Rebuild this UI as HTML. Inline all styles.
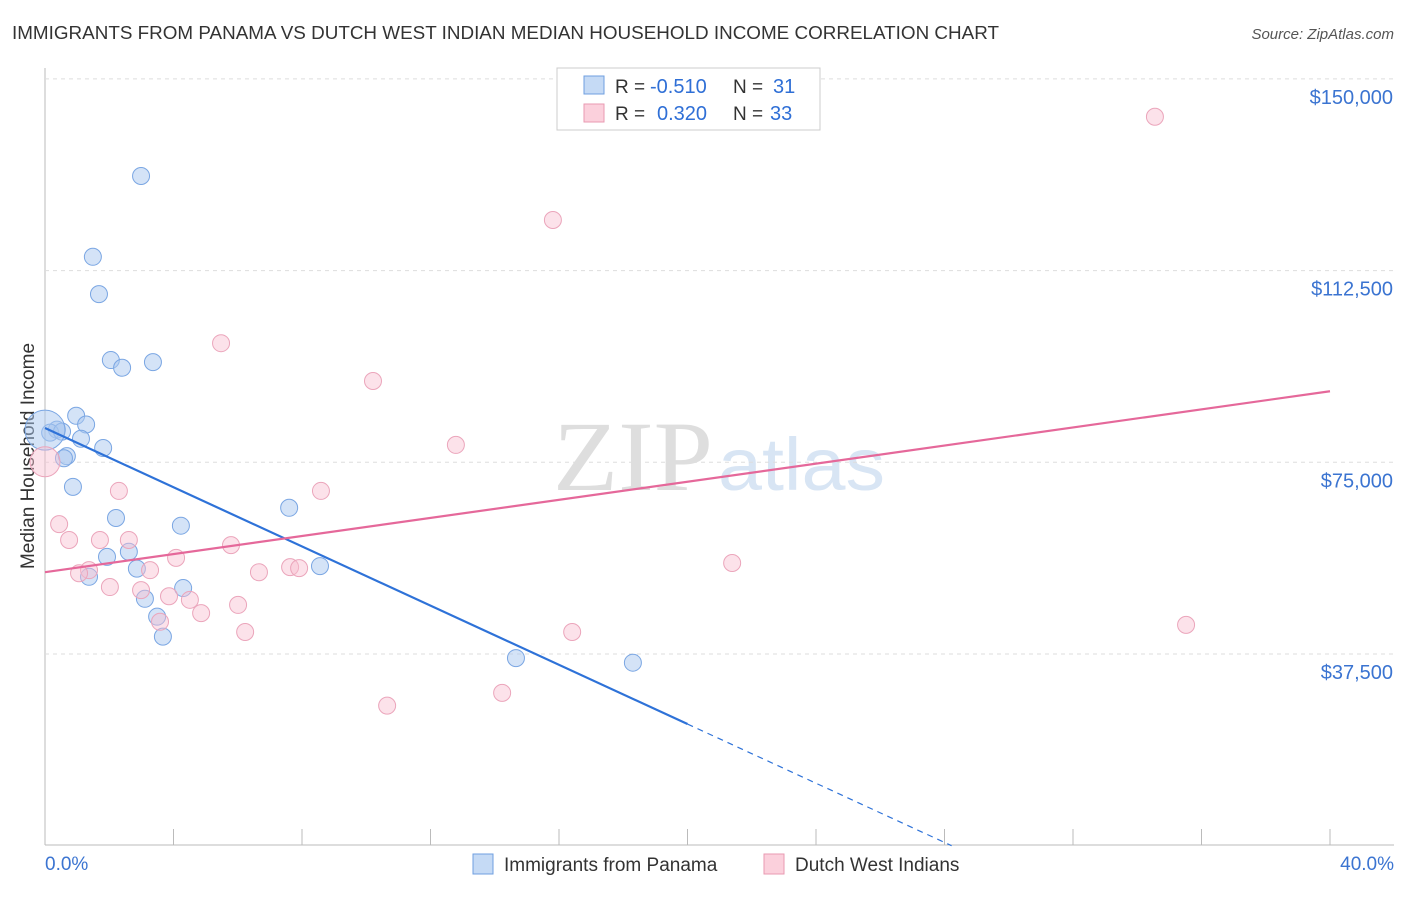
<!DOCTYPE html>
<html><head><meta charset="utf-8"><style>
body{margin:0;background:#fff;font-family:"Liberation Sans",sans-serif;}
svg text{font-family:"Liberation Sans",sans-serif;}
</style></head><body>
<svg id="chart" width="1406" height="892">
<text x="12" y="39" font-size="18" fill="#333" textLength="987" lengthAdjust="spacingAndGlyphs">IMMIGRANTS FROM PANAMA VS DUTCH WEST INDIAN MEDIAN HOUSEHOLD INCOME CORRELATION CHART</text>
<text x="1394" y="39" font-size="15" fill="#555" font-style="italic" text-anchor="end">Source: ZipAtlas.com</text>
<text x="34" y="456" font-size="19" fill="#333" text-anchor="middle" transform="rotate(-90 34 456)">Median Household Income</text>
<g>
<text x="553" y="490" font-size="100" fill="#dedede" font-family="Liberation Serif" style="font-family:'Liberation Serif',serif" textLength="160" lengthAdjust="spacingAndGlyphs">ZIP</text>
<text x="718" y="490" font-size="74" fill="#d8e5f4" textLength="167" lengthAdjust="spacingAndGlyphs">atlas</text>
</g>
<g id="grid"></g><g id="marks"></g>
<g>
<rect x="557" y="68" width="263" height="62" fill="#fff" stroke="#ccc"/>
<rect x="584" y="76" width="20" height="18" fill="#c5daf5" stroke="#6f9fe0"/>
<rect x="584" y="104" width="20" height="18" fill="#fbd0dc" stroke="#e89ab2"/>
<text x="615" y="93" font-size="19" fill="#333">R =</text>
<text x="650" y="93" font-size="20" fill="#2f6fd6">-0.510</text>
<text x="733" y="93" font-size="19" fill="#333">N =</text>
<text x="773" y="93" font-size="20" fill="#2f6fd6">31</text>
<text x="615" y="120" font-size="19" fill="#333">R =</text>
<text x="657" y="120" font-size="20" fill="#2f6fd6">0.320</text>
<text x="733" y="120" font-size="19" fill="#333">N =</text>
<text x="770" y="120" font-size="20" fill="#2f6fd6">33</text>
</g>
<g>
<rect x="473" y="854" width="20" height="20" fill="#c5daf5" stroke="#6f9fe0"/>
<text x="504" y="871" font-size="19" fill="#333">Immigrants from Panama</text>
<rect x="764" y="854" width="20" height="20" fill="#fbd0dc" stroke="#e89ab2"/>
<text x="795" y="871" font-size="19" fill="#333">Dutch West Indians</text>
</g>
<text x="45" y="870" font-size="19" fill="#3b74d1">0.0%</text>
<text x="1394" y="870" font-size="19" fill="#3b74d1" text-anchor="end">40.0%</text>
</svg>
<script>
const yTicks=[37.5,75,112.5,150];
const yTickLabels=["$37,500","$75,000","$112,500","$150,000"];
const xTicks=[0,4,8,12,16,20,24,28,32,36,40];
const panamaX=[2.99,1.49,1.68,2.05,2.40,3.36,0.97,1.28,0.37,0.16,0.53,1.12,1.81,0.68,0.59,0.87,2.21,4.23,7.60,8.56,1.93,2.61,2.86,1.37,3.11,4.30,3.49,3.67,14.66,18.30,0];
const panamaY=[131.0,115.2,107.9,95.0,93.5,94.6,84.1,82.4,81.4,80.8,81.0,79.6,77.8,76.2,75.8,70.2,64.1,62.6,66.1,54.7,56.5,57.5,54.2,52.6,48.3,50.4,44.8,40.9,36.7,35.8,81.3];
const dutchX=[34.55,15.81,5.48,10.21,12.79,0,2.30,8.59,0.44,0.75,1.71,2.61,5.79,4.08,1.37,1.06,3.27,6.66,7.63,7.91,21.39,2.02,2.99,3.86,4.51,6.01,4.86,3.58,6.23,16.41,35.52,14.23,10.65];
const dutchY=[142.6,122.4,98.3,90.9,78.4,75.1,69.4,69.4,62.9,59.8,59.8,59.8,58.8,56.3,53.9,53.3,53.9,53.5,54.5,54.3,55.3,50.6,50.0,48.8,48.1,47.1,45.5,43.8,41.8,41.8,43.2,29.9,27.4];
const panamaTrend=[81.7,-2.895];
const dutchTrend=[53.5,0.885];
const NS="http://www.w3.org/2000/svg";
const X=v=>45+v/40*1285;
const Y=v=>845.7-v/37.5*191.7;
function mk(tag,attrs,parent){const e=document.createElementNS(NS,tag);for(const k in attrs)e.setAttribute(k,attrs[k]);parent.appendChild(e);return e;}
const grid=document.getElementById('grid'),marks=document.getElementById('marks');
let ax=mk('line',{x1:45,y1:68,x2:45,y2:845,stroke:'#bbb'},grid);


let bx=mk('line',{x1:45,y1:845,x2:1394,y2:845,stroke:'#bbb'},grid);


yTicks.forEach((t,i)=>{
 const g=mk('line',{x1:45,x2:1394,y1:Y(t),y2:Y(t),stroke:'#ddd','stroke-dasharray':'4,4'},grid);
 
 
 const tx=mk('text',{x:1393,y:Y(t)+25,'font-size':20,fill:'#3b74d1','text-anchor':'end'},grid);
 tx.textContent=yTickLabels[i];
 
 
});
xTicks.forEach(t=>{
 const l=mk('line',{x1:X(t),x2:X(t),y1:829,y2:845,stroke:'#bbb'},grid);
 
 
});
function pts(xs,ys,fill,stroke,big,name){
 xs.forEach((x,i)=>{
  const r=(x===0)?big:8.5;
  const c=mk('circle',{cx:X(x),cy:Y(ys[i]),r:r,fill:fill,stroke:stroke,'stroke-width':1},marks);
  
  
 });
}
pts(panamaX,panamaY,'rgba(170,200,240,0.5)','#7aa6e3',20,'panama-point');
pts(dutchX,dutchY,'rgba(248,190,208,0.45)','#eba5bb',15,'dutch-point');
const pe=20, pd=panamaTrend[0]/-panamaTrend[1];
let l1=mk('line',{x1:X(0),y1:Y(panamaTrend[0]),x2:X(pe),y2:Y(panamaTrend[0]+panamaTrend[1]*pe),stroke:'#2e72d8','stroke-width':2.2},marks);


let l2=mk('line',{x1:X(pe),y1:Y(panamaTrend[0]+panamaTrend[1]*pe),x2:X(pd),y2:Y(panamaTrend[0]+panamaTrend[1]*pd),stroke:'#2e72d8','stroke-width':1.2,'stroke-dasharray':'6,5'},marks);


let l3=mk('line',{x1:X(0),y1:Y(dutchTrend[0]),x2:X(40),y2:Y(dutchTrend[0]+dutchTrend[1]*40),stroke:'#e5689a','stroke-width':2.2},marks);


</script>
</body></html>
